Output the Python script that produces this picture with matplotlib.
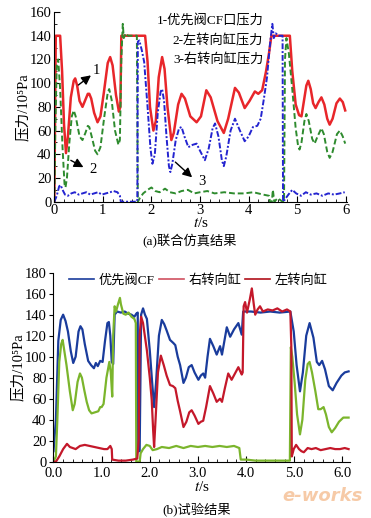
import matplotlib
matplotlib.use("Agg")
import matplotlib.pyplot as plt
from matplotlib.ticker import MultipleLocator, FormatStrFormatter
from matplotlib.lines import Line2D

plt.rcParams['font.family'] = ['Liberation Serif', 'Noto Sans CJK SC', 'DejaVu Serif']
plt.rcParams['mathtext.fontset'] = 'stix'

# ---------------- (a) simulation ----------------
sim_cf_t = [0, 0.03, 0.12, 0.16, 0.20, 0.24, 0.28, 0.34, 0.40, 0.43, 0.47, 0.52, 0.58, 0.64, 0.69, 0.72,
            0.76, 0.82, 0.89, 0.95, 1.02, 1.10, 1.15, 1.20, 1.27, 1.33, 1.36, 1.38, 1.87, 1.92, 1.97, 2.04,
            2.09, 2.15, 2.22, 2.27, 2.33, 2.41, 2.46, 2.55, 2.62, 2.69, 2.80, 2.93, 3.02, 3.13, 3.22, 3.36,
            3.49, 3.58, 3.72, 3.80, 3.92, 4.02, 4.13, 4.20, 4.28, 4.36, 4.42, 4.47, 4.85, 4.90, 4.97, 5.04,
            5.09, 5.14, 5.19, 5.23, 5.28, 5.33, 5.38, 5.44, 5.50, 5.56, 5.62, 5.67, 5.73, 5.81, 5.88, 5.94, 5.99]
sim_cf_v = [0, 140, 140, 110, 65, 41, 55, 88, 102, 104, 98, 85, 80, 86, 91, 91,
            87, 75, 67, 72, 92, 117, 122, 115, 90, 76, 80, 140, 140, 118, 80, 60,
            68, 105, 122, 112, 80, 52, 58, 82, 91, 87, 72, 67, 72, 94, 88, 68,
            58, 70, 96, 92, 79, 85, 93, 91, 94, 110, 125, 140, 140, 110, 82, 73,
            72, 85, 98, 102, 95, 83, 79, 84, 88, 82, 70, 65, 70, 83, 87, 84, 77]

sim_left_t = [0, 0.02, 0.05, 0.08, 0.12, 0.17, 0.21, 0.23, 0.26, 0.31, 0.36, 0.40, 0.44, 0.52, 0.58, 0.64,
              0.69, 0.72, 0.77, 0.84, 0.89, 0.95, 1.03, 1.10, 1.13, 1.18, 1.25, 1.32, 1.35, 1.38, 1.41, 1.43,
              1.47, 1.52, 1.70, 1.72, 1.76, 1.83, 1.92, 2.00, 2.08, 2.17, 2.28, 2.38, 2.50, 2.62, 2.75, 2.88,
              3.00, 3.15, 3.30, 3.50, 3.70, 3.90, 4.10, 4.30, 4.42, 4.44, 4.48, 4.50, 4.53, 4.60, 4.70, 4.73,
              4.75, 4.78, 4.83, 4.90, 4.97, 5.02, 5.05, 5.09, 5.15, 5.19, 5.24, 5.31, 5.36, 5.42, 5.50, 5.55,
              5.62, 5.67, 5.73, 5.82, 5.88, 5.94, 5.99]
sim_left_v = [0, 60, 115, 120, 95, 45, 15, 12, 20, 50, 72, 77, 72, 55, 52, 58,
              64, 63, 55, 43, 40, 46, 72, 92, 95, 86, 60, 48, 52, 120, 150, 138,
              142, 140, 140, 0, 3, 7, 10, 12, 9, 8, 11, 8, 7, 9, 10, 7,
              8, 9, 7, 8, 7, 7, 8, 6, 5, 0, 0, 10, 0, 3, 0, 0,
              120, 138, 125, 95, 62, 47, 44, 50, 68, 74, 68, 53, 49, 55, 62, 57,
              42, 37, 42, 57, 60, 55, 49]

sim_right_t = [0, 0.05, 0.10, 0.13, 0.17, 0.22, 0.28, 0.35, 0.42, 0.50, 0.58, 0.66, 0.74, 0.82, 0.90, 0.98,
               1.06, 1.15, 1.22, 1.30, 1.35, 1.37, 1.70, 1.71, 1.72, 1.75, 1.80, 1.85, 1.92, 1.98, 2.02, 2.07,
               2.13, 2.19, 2.22, 2.26, 2.31, 2.36, 2.39, 2.43, 2.50, 2.57, 2.62, 2.68, 2.76, 2.85, 2.93, 3.00,
               3.10, 3.18, 3.26, 3.31, 3.38, 3.45, 3.49, 3.54, 3.63, 3.72, 3.80, 3.92, 4.00, 4.09, 4.18, 4.25,
               4.32, 4.38, 4.43, 4.46, 4.49, 4.52, 4.56, 4.62, 4.70, 4.71, 4.75, 4.82, 4.90, 4.98, 5.08, 5.18,
               5.28, 5.40, 5.52, 5.64, 5.76, 5.88, 5.98]
sim_right_v = [0, 5, 13, 14, 10, 6, 5, 7, 8, 6, 7, 8, 6, 7, 8, 6,
               7, 8, 9, 8, 5, 0, 0, 2, 135, 136, 128, 118, 80, 45, 32, 40,
               75, 93, 95, 85, 55, 30, 25, 32, 52, 62, 63, 55, 46, 48, 49, 43,
               35, 45, 62, 66, 55, 35, 30, 38, 60, 70, 62, 51, 55, 63, 64, 70,
               88, 105, 128, 140, 150, 138, 142, 140, 140, 0, 2, 6, 10, 7, 5, 8,
               6, 7, 5, 7, 6, 7, 8]

sim_legend = ['1-优先阀CF口压力', '2-左转向缸压力', '3-右转向缸压力']

# ---------------- (b) experiment ----------------
exp_cf_t = [0, 0.05, 0.10, 0.15, 0.20, 0.25, 0.30, 0.36, 0.41, 0.46, 0.52, 0.56, 0.60, 0.65, 0.72, 0.78,
            0.84, 0.88, 0.92, 0.97, 1.02, 1.07, 1.12, 1.15, 1.18, 1.21, 1.24, 1.27, 1.32, 1.40, 1.48, 1.55,
            1.62, 1.68, 1.72, 1.75, 1.76, 1.79, 1.82, 1.86, 1.90, 1.94, 2.00, 2.05, 2.09, 2.13, 2.19, 2.25,
            2.30, 2.35, 2.42, 2.49, 2.53, 2.58, 2.63, 2.70, 2.75, 2.81, 2.87, 2.93, 3.01, 3.06, 3.11, 3.15,
            3.20, 3.25, 3.32, 3.39, 3.46, 3.50, 3.55, 3.60, 3.67, 3.75, 3.84, 3.91, 3.94, 4.10, 4.30, 4.50,
            4.70, 4.92, 4.99, 5.05, 5.12, 5.18, 5.25, 5.32, 5.40, 5.47, 5.52, 5.58, 5.64, 5.72, 5.80, 5.88,
            5.98, 6.05, 6.13]
exp_cf_v = [10, 40, 115, 135, 140, 134, 124, 105, 94, 100, 124, 129, 126, 112, 96, 92,
            89, 94, 91, 96, 95, 115, 132, 133, 120, 95, 93, 140, 143, 142, 143, 141,
            140, 138, 141, 142, 10, 10, 140, 146, 140, 136, 106, 75, 52, 75, 120, 135,
            131, 125, 116, 113, 111, 100, 92, 75, 80, 90, 92, 85, 78, 82, 84, 80,
            100, 117, 110, 102, 110, 102, 115, 128, 119, 126, 132, 121, 143, 143, 142, 143,
            142, 143, 124, 92, 67, 85, 120, 132, 118, 95, 92, 96, 88, 72, 68, 75,
            82, 85, 86]

exp_right_t = [0, 0.05, 0.12, 0.20, 0.28, 0.34, 0.40, 0.46, 0.55, 0.65, 0.75, 0.85, 0.95, 1.05, 1.12, 1.18,
               1.21, 1.22, 1.35, 1.50, 1.65, 1.74, 1.77, 1.79, 1.82, 1.86, 1.94, 2.00, 2.04, 2.07, 2.09, 2.12,
               2.17, 2.23, 2.29, 2.35, 2.42, 2.48, 2.53, 2.58, 2.63, 2.70, 2.76, 2.82, 2.87, 2.93, 3.01, 3.06,
               3.11, 3.17, 3.25, 3.32, 3.39, 3.46, 3.50, 3.56, 3.63, 3.70, 3.77, 3.84, 3.91, 3.93, 3.95, 3.98,
               4.02, 4.08, 4.12, 4.16, 4.19, 4.24, 4.29, 4.35, 4.45, 4.55, 4.65, 4.75, 4.85, 4.92, 4.94, 4.95,
               4.99, 5.04, 5.10, 5.15, 5.20, 5.28, 5.36, 5.45, 5.55, 5.65, 5.75, 5.85, 5.95, 6.05, 6.13]
exp_right_v = [0, 0, 5, 12, 17, 14, 13, 12, 15, 16, 15, 14, 13, 12, 12, 15,
               12, 2, 1, 1, 2, 3, 20, 120, 138, 132, 106, 80, 59, 30, 14, 40,
               85, 101, 92, 82, 73, 72, 70, 58, 48, 33, 38, 47, 49, 44, 36, 38,
               39, 52, 72, 65, 57, 60, 57, 70, 84, 78, 84, 90, 83, 85, 148, 152,
               142, 155, 165, 150, 140, 145, 148, 143, 145, 144, 146, 143, 145, 143, 110, 5,
               12, 16, 12, 10, 9, 13, 12, 13, 11, 12, 13, 12, 12, 13, 12]

exp_left_t = [0, 0.05, 0.08, 0.12, 0.16, 0.19, 0.23, 0.27, 0.34, 0.40, 0.44, 0.50, 0.55, 0.59, 0.64, 0.69,
              0.74, 0.79, 0.86, 0.93, 0.97, 1.00, 1.04, 1.10, 1.16, 1.19, 1.22, 1.24, 1.27, 1.30, 1.34, 1.38,
              1.40, 1.45, 1.50, 1.56, 1.62, 1.68, 1.71, 1.72, 1.79, 1.81, 1.86, 1.93, 2.00, 2.06, 2.15, 2.25,
              2.40, 2.55, 2.70, 2.85, 3.00, 3.15, 3.30, 3.45, 3.60, 3.75, 3.86, 3.89, 4.00, 4.20, 4.50, 4.80,
              4.91, 4.93, 4.96, 5.01, 5.06, 5.12, 5.17, 5.23, 5.28, 5.32, 5.37, 5.44, 5.50, 5.55, 5.61, 5.66,
              5.72, 5.78, 5.85, 5.93, 6.02, 6.13]
exp_left_v = [0, 5, 40, 95, 112, 116, 104, 92, 67, 49, 55, 76, 84, 80, 68, 57,
              49, 46, 47, 48, 52, 52, 55, 80, 95, 85, 62, 120, 148, 143, 150, 156,
              150, 141, 140, 142, 138, 136, 132, 0, 0, 8, 12, 16, 15, 11, 12, 14,
              13, 15, 13, 15, 14, 15, 14, 15, 14, 15, 13, 2, 2, 1, 1, 1,
              1, 109, 100, 75, 45, 26, 40, 78, 93, 95, 85, 67, 50, 50, 52, 45,
              33, 28, 32, 38, 42, 42]

exp_legend = ['优先阀CF', '右转向缸', '左转向缸']

fig = plt.figure(figsize=(3.71, 5.18), dpi=100)

# ---------- top axes ----------
ax1 = fig.add_axes([0.1464, 0.6106, 0.788, 0.3662])
ax1.plot(sim_cf_t, sim_cf_v, color='#e8262a', lw=1.8, solid_joinstyle='round')
ax1.plot(sim_left_t, sim_left_v, color='#2e8b2e', lw=1.4, ls=(0, (3, 1.5)))
ax1.plot(sim_right_t, sim_right_v, color='#2424d0', lw=1.4, ls=(0, (3, 1, 1, 1)))
ax1.set_xlim(0, 6.02)
ax1.set_ylim(0, 160)
ax1.xaxis.set_major_locator(MultipleLocator(1))
ax1.xaxis.set_minor_locator(MultipleLocator(0.2))
ax1.yaxis.set_major_locator(MultipleLocator(20))
ax1.yaxis.set_minor_locator(MultipleLocator(10))
for s in ['top', 'right']:
    ax1.spines[s].set_visible(False)
ax1.tick_params(which='both', direction='in', labelsize=10.5, pad=2)
ax1.tick_params(which='major', length=4)
ax1.tick_params(which='minor', length=2.5)
ax1.set_xlabel('$t$/s', fontsize=11, labelpad=-1)
ax1.set_ylabel('压力/10⁵Pa', fontsize=10.5, labelpad=0)
ys = [0.955, 0.85, 0.745]
for txt, y in zip(sim_legend, ys):
    ax1.text(0.715, y, txt, transform=ax1.transAxes, ha='right', va='center', fontsize=9.5)
arrow = dict(arrowstyle='-|>,head_length=0.55,head_width=0.28', color='black', lw=1)
ax1.annotate('', xy=(0.80, 108), xytext=(0.45, 97), arrowprops=arrow)
ax1.text(0.87, 111, '1', fontsize=10.5, ha='center', va='center')
ax1.annotate('', xy=(0.65, 28), xytext=(0.29, 36), arrowprops=arrow)
ax1.text(0.80, 27, '2', fontsize=10.5, ha='center', va='center')
ax1.annotate('', xy=(2.88, 19), xytext=(2.45, 35), arrowprops=arrow)
ax1.text(3.03, 17, '3', fontsize=10.5, ha='center', va='center')
fig.text(0.51, 1 - 241 / 518, '(a)联合仿真结果', ha='center', va='center', fontsize=9.5)

# ---------- bottom axes ----------
ax2 = fig.add_axes([0.1442, 0.1087, 0.798, 0.3649])
ax2.plot(exp_cf_t, exp_cf_v, color='#1a3c9c', lw=1.6)
ax2.plot(exp_left_t, exp_left_v, color='#7bb52c', lw=1.6)
ax2.plot(exp_right_t, exp_right_v, color='#c4182a', lw=1.6)
ax2.set_xlim(0, 6.15)
ax2.set_ylim(0, 180)
ax2.xaxis.set_major_locator(MultipleLocator(1))
ax2.xaxis.set_minor_locator(MultipleLocator(0.2))
ax2.yaxis.set_major_locator(MultipleLocator(20))
ax2.xaxis.set_major_formatter(FormatStrFormatter('%.1f'))
for s in ['top', 'right']:
    ax2.spines[s].set_visible(False)
ax2.tick_params(axis='y', which='both', direction='out', length=3, labelsize=10.5, pad=2)
ax2.tick_params(axis='x', which='both', direction='in', labelsize=10.5, pad=3.5)
ax2.tick_params(axis='x', which='major', length=4)
ax2.tick_params(axis='x', which='minor', length=2.5)
ax2.set_xlabel('$t$/s', fontsize=11, labelpad=0.5)
ax2.set_ylabel('压力/10⁵Pa', fontsize=10.5, labelpad=0)
handles = [Line2D([], [], color='#1a3c9c', lw=1.2),
           Line2D([], [], color='#d05060', lw=1.2),
           Line2D([], [], color='#b0101a', lw=1.2)]
ax2.legend(handles, exp_legend, loc='upper center', bbox_to_anchor=(0.49, 1.055), ncol=3,
           frameon=False, fontsize=9.5, handlelength=1.9, handletextpad=0.35, columnspacing=0.3)
fig.text(0.53, 1 - 509 / 518, '(b)试验结果', ha='center', va='center', fontsize=9.5)
fig.text(0.87, 1 - 496 / 518, 'e-works', ha='center', va='center', fontsize=13,
         style='italic', weight='bold', color='#f0a060', alpha=0.55, family='DejaVu Sans')

fig.savefig('out.png', dpi=100)
